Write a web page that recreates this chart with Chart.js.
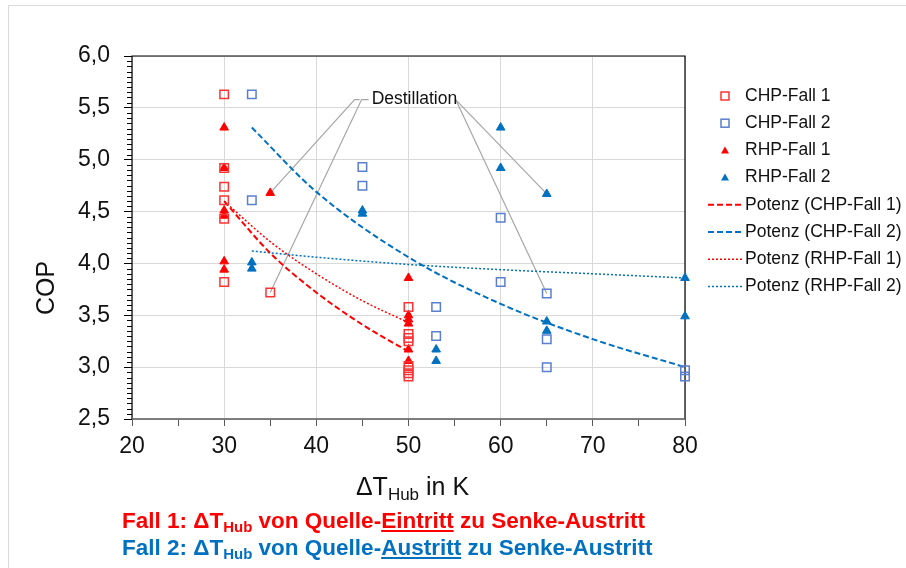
<!DOCTYPE html>
<html>
<head>
<meta charset="utf-8">
<script src="https://cdn.jsdelivr.net/npm/chart.js@4.4.0/dist/chart.umd.min.js"></script>
<style>
body{margin:0;background:#fff;font-family:"Liberation Sans",Arial,sans-serif;}
#wrap{position:relative;width:906px;height:568px;overflow:hidden;}
#frame{position:absolute;left:8px;top:5px;width:920px;height:600px;border-left:1px solid #d9d9d9;border-top:1px solid #d9d9d9;}
canvas{position:absolute;left:0;top:0;}
.note{position:absolute;left:122px;font-weight:bold;font-size:22.5px;line-height:22px;white-space:nowrap;}
.note sub{font-size:15px;line-height:0;vertical-align:-4px;}
.note u{text-decoration-thickness:2px;text-underline-offset:2px;}
</style>
</head>
<body>
<div id="wrap">
<div id="frame"></div>
<canvas id="myChart" width="906" height="568"></canvas>
<div class="note" style="top:510px;color:#ff0000">Fall 1: &Delta;T<sub>Hub</sub> von Quelle-<u>Eintritt</u> zu Senke-Austritt</div>
<div class="note" style="top:537px;color:#0070c0">Fall 2: &Delta;T<sub>Hub</sub> von Quelle-<u>Austritt</u> zu Senke-Austritt</div>
</div>
<script>
// Messpunkte
let chp1X = [30, 30, 30, 30, 30, 30, 35, 50, 50, 50, 50, 50, 50, 50, 50];
let chp1Y = [5.63, 4.92, 4.74, 4.61, 4.43, 3.82, 3.72, 3.58, 3.32, 3.28, 3.25, 3.01, 2.97, 2.94, 2.91];
let chp2X = [33, 33, 45, 45, 53, 53, 60, 60, 65, 65, 65, 80, 80];
let chp2Y = [5.63, 4.61, 4.93, 4.75, 3.58, 3.30, 4.44, 3.82, 3.71, 3.27, 3.00, 2.97, 2.91];
let rhp1X = [30, 30, 30, 30, 30, 30, 35, 50, 50, 50, 50, 50, 50];
let rhp1Y = [5.31, 4.92, 4.51, 4.46, 4.02, 3.94, 4.68, 3.86, 3.50, 3.46, 3.42, 3.17, 3.06];
let rhp2X = [33, 33, 45, 45, 53, 53, 60, 60, 65, 65, 65, 80, 80];
let rhp2Y = [4.01, 3.95, 4.51, 4.48, 3.17, 3.06, 5.31, 4.92, 4.67, 3.44, 3.35, 3.86, 3.49];

// Trendlinien (Potenz)
let trendChp1X = [30, 35, 40, 45, 50];
let trendChp1Y = [4.60, 4.10, 3.72, 3.41, 3.15];
let trendRhp1X = [30, 35, 40, 45, 50];
let trendRhp1Y = [4.60, 4.21, 3.90, 3.64, 3.43];
let trendChp2X = [33, 40, 50, 60, 70, 80];
let trendChp2Y = [5.31, 4.69, 4.06, 3.61, 3.27, 3.00];
let trendRhp2X = [33, 40, 50, 60, 70, 80];
let trendRhp2Y = [4.12, 4.06, 3.99, 3.94, 3.90, 3.86];

let labels = ["CHP-Fall 1", "CHP-Fall 2", "RHP-Fall 1", "RHP-Fall 2",
	"Potenz (CHP-Fall 1)", "Potenz (CHP-Fall 2)", "Potenz (RHP-Fall 1)", "Potenz (RHP-Fall 2)"];

// Beschriftung Destillation: Punkte, auf die gezeigt wird
let destText = "Destillation";
let destLeft = [{x: 35, y: 4.68}, {x: 35, y: 3.72}];
let destRight = [{x: 65, y: 4.67}, {x: 65, y: 3.71}];

const RED = "#ff0000";
const BLUE = "#0070c0";
const FONT = '"Liberation Sans", Arial, sans-serif';

function zip(xs, ys){
	let out = [];
	for(let i = 0; i < xs.length; i++){
		out.push({x: xs[i], y: ys[i]});
	}
	return out;
}

function punkte(label, xs, ys, style, color, filled, r){
	return {
		label: label, data: zip(xs, ys), showLine: false, clip: false,
		pointStyle: style, pointRadius: r, pointHoverRadius: r,
		pointBorderColor: color, pointBackgroundColor: filled ? color : "rgba(0,0,0,0)",
		pointBorderWidth: filled ? 1 : 1.5
	};
}

function trend(label, xs, ys, color, dash, w){
	return {
		label: label, data: zip(xs, ys), showLine: true, clip: false,
		borderColor: color, borderWidth: w, borderDash: dash,
		pointRadius: 0, cubicInterpolationMode: "monotone", tension: 0.4
	};
}

let datasets = [
	punkte(labels[0], chp1X, chp1Y, "rect", "#ff3333", false, 6),
	punkte(labels[1], chp2X, chp2Y, "rect", "#5a7fce", false, 6),
	punkte(labels[2], rhp1X, rhp1Y, "triangle", RED, true, 5),
	punkte(labels[3], rhp2X, rhp2Y, "triangle", BLUE, true, 5),
	trend(labels[4], trendChp1X, trendChp1Y, RED, [6, 3], 2),
	trend(labels[5], trendChp2X, trendChp2Y, BLUE, [6, 3], 2),
	trend(labels[6], trendRhp1X, trendRhp1Y, RED, [2, 2], 1.5),
	trend(labels[7], trendRhp2X, trendRhp2Y, BLUE, [2, 2], 1.5)
];

const extras = {
	id: "extras",
	beforeDatasetsDraw(chart){
		const {ctx, chartArea: a, scales: {x, y}} = chart;
		ctx.save();
		// Rahmen Diagrammfläche
		ctx.lineWidth = 1.2;
		ctx.strokeStyle = "#000";
		ctx.beginPath();
		ctx.moveTo(a.left, a.bottom);
		ctx.lineTo(a.left, a.top);
		ctx.lineTo(a.right, a.top);
		ctx.lineTo(a.right, a.bottom);
		ctx.stroke();
		ctx.strokeStyle = "#595959";
		ctx.lineWidth = 1.5;
		ctx.beginPath();
		ctx.moveTo(a.left, a.bottom);
		ctx.lineTo(a.right, a.bottom);
		ctx.stroke();
		// Hilfsstriche y
		ctx.strokeStyle = "#000";
		ctx.lineWidth = 1;
		ctx.beginPath();
		for(let i = 1; i < 70; i++){
			if(i % 10 == 0) continue;
			let py = Math.round(y.getPixelForValue(2.5 + i * 0.05)) + 0.5;
			ctx.moveTo(a.left - 5, py);
			ctx.lineTo(a.left, py);
		}
		ctx.stroke();
		// Linien Destillation
		let ly = y.getPixelForValue(5.58);
		let lx = x.getPixelForValue(46.0);
		ctx.strokeStyle = "#a6a6a6";
		ctx.lineWidth = 1.2;
		ctx.beginPath();
		let p = destLeft[0];
		ctx.moveTo(lx - 12, ly); ctx.lineTo(lx - 17, ly);
		ctx.lineTo(x.getPixelForValue(p.x), y.getPixelForValue(p.y));
		p = destLeft[1];
		ctx.moveTo(lx - 3, ly); ctx.lineTo(lx - 10, ly);
		ctx.lineTo(x.getPixelForValue(p.x), y.getPixelForValue(p.y));
		destRight.forEach((q) => {
			ctx.moveTo(lx + 84, ly);
			ctx.lineTo(x.getPixelForValue(q.x), y.getPixelForValue(q.y));
		});
		ctx.stroke();
		ctx.restore();
	},
	afterDraw(chart){
		const {ctx, chartArea: a, scales: {x, y}} = chart;
		ctx.save();
		ctx.fillStyle = "#111";
		// Text Destillation
		ctx.font = "17.5px " + FONT;
		ctx.textBaseline = "middle";
		ctx.textAlign = "left";
		ctx.fillText(destText, x.getPixelForValue(46.0), y.getPixelForValue(5.58));
		// Achsentitel y
		ctx.save();
		ctx.translate(47, 288);
		ctx.rotate(-Math.PI / 2);
		ctx.font = "25px " + FONT;
		ctx.textAlign = "center";
		ctx.fillText("COP", 0, 0);
		ctx.restore();
		// Achsentitel x mit Index
		ctx.textBaseline = "alphabetic";
		ctx.font = "25px " + FONT;
		let w1 = ctx.measureText("\u0394T").width;
		let w3 = ctx.measureText(" in K").width;
		ctx.font = "17px " + FONT;
		let w2 = ctx.measureText("Hub").width;
		let sx = (a.left + a.right) / 2 + 4 - (w1 + w2 + w3) / 2;
		let by = 495;
		ctx.font = "25px " + FONT;
		ctx.fillText("\u0394T", sx, by);
		ctx.font = "17px " + FONT;
		ctx.fillText("Hub", sx + w1, by + 5);
		ctx.font = "25px " + FONT;
		ctx.fillText(" in K", sx + w1 + w2, by);
		// Legende
		ctx.font = "17.5px " + FONT;
		ctx.textBaseline = "middle";
		chart.data.datasets.forEach((ds, i) => {
			let ry = 96 + i * 27.2;
			let mx = 725;
			if(ds.showLine){
				ctx.strokeStyle = ds.borderColor;
				ctx.lineWidth = ds.borderWidth;
				ctx.setLineDash(ds.borderDash);
				ctx.beginPath();
				ctx.moveTo(708, ry);
				ctx.lineTo(742, ry);
				ctx.stroke();
				ctx.setLineDash([]);
			}else if(ds.pointStyle == "rect"){
				ctx.strokeStyle = ds.pointBorderColor;
				ctx.lineWidth = 1.5;
				ctx.strokeRect(mx - 4, ry - 4, 8, 8);
			}else{
				ctx.fillStyle = ds.pointBackgroundColor;
				ctx.beginPath();
				ctx.moveTo(mx, ry - 4);
				ctx.lineTo(mx + 4, ry + 3);
				ctx.lineTo(mx - 4, ry + 3);
				ctx.closePath();
				ctx.fill();
			}
			ctx.fillStyle = "#111";
			ctx.fillText(ds.label, 745, ry);
		});
		ctx.restore();
	}
};

const ctx = document.getElementById("myChart");
new Chart(ctx, {
	type: "scatter",
	data: {datasets: datasets},
	plugins: [extras],
	options: {
		responsive: false,
		animation: false,
		layout: {padding: {top: 56, right: 221, left: 0, bottom: 0}},
		plugins: {legend: {display: false}, tooltip: {enabled: false}},
		scales: {
			x: {
				type: "linear", min: 20, max: 80,
				afterFit: (s) => { s.height = 149; },
				border: {display: false},
				grid: {
					color: (c) => (c.tick && c.tick.value % 10 == 0) ? "#d9d9d9" : "rgba(0,0,0,0)",
					tickColor: "#595959", tickLength: 7, lineWidth: 1
				},
				ticks: {
					stepSize: 5, autoSkip: false, maxRotation: 0, padding: 7,
					color: "#111", font: {family: FONT, size: 23},
					callback: (v) => v % 10 == 0 ? v : ""
				}
			},
			y: {
				type: "linear", min: 2.5, max: 6,
				afterFit: (s) => { s.width = 132; },
				border: {display: false},
				grid: {color: "#d9d9d9", tickColor: "#000", tickLength: 8, lineWidth: 1},
				ticks: {
					stepSize: 0.5, padding: 14,
					color: "#111", font: {family: FONT, size: 23},
					callback: (v) => v.toFixed(1).replace(".", ",")
				}
			}
		}
	}
});
</script>
</body>
</html>
